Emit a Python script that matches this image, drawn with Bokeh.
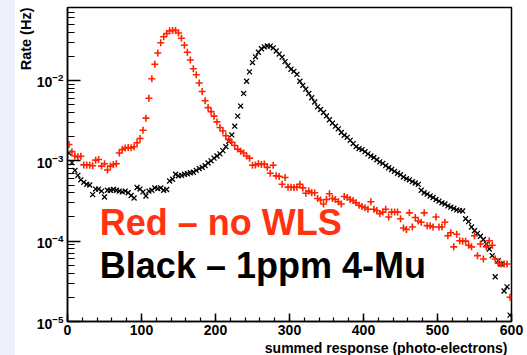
import math
from bokeh.plotting import figure
from bokeh.models import (ColumnDataSource, Label, FixedTicker, SingleIntervalTicker,
                          Spacer, LogTickFormatter, Title)
from bokeh.layouts import row
from bokeh.embed import file_html
from bokeh.resources import INLINE

# ---------------- data (bins of 4 photo-electrons, centres 2..598) ----------------
bin_centres = [2 + 4 * k for k in range(150)]

red_no_wls = [
    1.6e-3, 1.3e-3, 1.15e-3, 1.12e-3, 1.14e-3, 8.9e-4, 8.9e-4, 8.8e-4, 8.7e-4, 1.02e-3,
    1.04e-3, 8.6e-4, 9.2e-4, 7.7e-4, 8.6e-4, 9.0e-4, 9.2e-4, 1.25e-3, 1.38e-3, 1.44e-3,
    1.46e-3, 1.45e-3, 1.5e-3, 1.68e-3, 1.9e-3, 2.4e-3, 3.4e-3, 6.0e-3, 1.05e-2, 1.59e-2,
    2.2e-2, 2.95e-2, 3.5e-2, 3.85e-2, 4.15e-2, 4.2e-2, 4.2e-2, 3.9e-2, 3.35e-2, 2.75e-2,
    2.25e-2, 1.8e-2, 1.4e-2, 1.18e-2, 9.3e-3, 7.3e-3, 5.6e-3, 4.6e-3, 4.1e-3, 3.6e-3,
    3.05e-3, 2.6e-3, 2.35e-3, 2.05e-3, 1.85e-3, 1.7e-3, 1.55e-3, 1.4e-3, 1.32e-3, 1.25e-3,
    1.15e-3, 1.08e-3, 8.8e-4, 8.9e-4, 9.2e-4, 9.0e-4, 9.1e-4, 8.3e-4, 7.0e-4, 8.8e-4,
    6.5e-4, 6.4e-4, 5.1e-4, 6.2e-4, 4.7e-4, 4.7e-4, 4.65e-4, 4.7e-4, 5.1e-4, 4.6e-4,
    3.95e-4, 4.2e-4, 4.0e-4, 4.0e-4, 3.4e-4, 3.25e-4, 2.9e-4, 3.3e-4, 3.9e-4, 3.4e-4,
    3.3e-4, 3.1e-4, 2.9e-4, 3.6e-4, 3.5e-4, 3.3e-4, 3.2e-4, 3.0e-4, 2.8e-4, 2.7e-4,
    2.6e-4, 2.5e-4, 3.1e-4, 2.5e-4, 2.4e-4, 2.2e-4, 2.3e-4, 2.5e-4, 2.0e-4, 2.3e-4,
    2.3e-4, 2.3e-4, 1.9e-4, 1.46e-4, 1.4e-4, 2.25e-4, 1.5e-4, 1.97e-4, 1.78e-4, 1.72e-4,
    2.25e-4, 1.56e-4, 1.55e-4, 1.5e-4, 2.0e-4, 1.5e-4, 1.5e-4, 1.72e-4, 1.17e-4, 1.27e-4,
    8.5e-5, 1.22e-4, 1.01e-4, 1.0e-4, 1.0e-4, 8.9e-5, 8.5e-5, 1.17e-4, 6.6e-5, 9.2e-5,
    6.0e-5, 8.5e-5, 1.01e-4, 8.9e-5, 6.0e-5, 5.3e-5, 5.2e-5, 5.2e-5, 5.2e-5, 2.0e-5,
]

black_4mu = [
    1.25e-3, 9.5e-4, 7.6e-4, 6.6e-4, 5.8e-4, 5.4e-4, 5.1e-4, 5.0e-4, 3.8e-4, 4.45e-4,
    4.45e-4, 4.2e-4, 3.55e-4, 4.3e-4, 4.3e-4, 4.4e-4, 4.3e-4, 4.2e-4, 4.1e-4, 4.2e-4,
    4.0e-4, 3.7e-4, 3.45e-4, 4.66e-4, 4.45e-4, 4.1e-4, 3.65e-4, 4.2e-4, 4.3e-4, 4.6e-4,
    4.5e-4, 4.6e-4, 4.3e-4, 4.4e-4, 5.6e-4, 5.9e-4, 6.8e-4, 6.5e-4, 6.6e-4, 6.8e-4,
    6.9e-4, 7.1e-4, 7.2e-4, 7.6e-4, 8.0e-4, 8.3e-4, 8.7e-4, 9.4e-4, 1.0e-3, 1.08e-3,
    1.15e-3, 1.22e-3, 1.34e-3, 1.5e-3, 1.75e-3, 2.1e-3, 2.7e-3, 3.6e-3, 4.8e-3, 6.9e-3,
    9.8e-3, 1.28e-2, 1.67e-2, 1.97e-2, 2.25e-2, 2.48e-2, 2.62e-2, 2.69e-2, 2.68e-2, 2.55e-2,
    2.33e-2, 2.13e-2, 1.95e-2, 1.72e-2, 1.53e-2, 1.38e-2, 1.3e-2, 1.19e-2, 9.8e-3, 8.7e-3,
    7.8e-3, 6.9e-3, 6.1e-3, 5.4e-3, 4.7e-3, 4.35e-3, 4.0e-3, 3.62e-3, 3.25e-3, 2.95e-3,
    2.7e-3, 2.5e-3, 2.25e-3, 2.08e-3, 1.96e-3, 1.8e-3, 1.64e-3, 1.5e-3, 1.42e-3, 1.38e-3,
    1.3e-3, 1.22e-3, 1.15e-3, 1.1e-3, 1.03e-3, 9.7e-4, 9.3e-4, 8.7e-4, 8.2e-4, 7.8e-4,
    7.4e-4, 7.0e-4, 6.7e-4, 6.3e-4, 6.0e-4, 5.8e-4, 5.5e-4, 5.3e-4, 5.1e-4, 4.3e-4,
    4.0e-4, 3.85e-4, 3.65e-4, 3.5e-4, 3.3e-4, 3.15e-4, 3.0e-4, 2.9e-4, 2.75e-4, 2.65e-4,
    2.55e-4, 2.45e-4, 2.4e-4, 2.38e-4, 1.9e-4, 1.75e-4, 1.5e-4, 1.35e-4, 1.25e-4, 1.15e-4,
    1.05e-4, 9.2e-5, 8.0e-5, 6.6e-5, 3.6e-5, 5.7e-5, 5.2e-5, 2.4e-5, 2.7e-5, 1.2e-5,
]

x_ticks = [0, 100, 200, 300, 400, 500, 600]
y_ticks = [1e-5, 1e-4, 1e-3, 1e-2]
x_title = "summed response (photo-electrons)"
y_title = "Rate (Hz)"
legend_red = "Red \u2013 no WLS"
legend_black = "Black \u2013 1ppm 4-Mu"

# ---------------- styles ----------------
RED = "#ff2200"
RED_TEXT = "#ff3311"
FONT = "Liberation Sans"

src = ColumnDataSource(dict(x=bin_centres, red=red_no_wls, black=black_4mu))

p = figure(width=512, height=355, y_axis_type="log",
           x_range=(0, 600), y_range=(1e-5, 0.081),
           output_backend="svg", toolbar_location=None,
           min_border_left=52, min_border_right=16,
           min_border_top=7, min_border_bottom=34)
p.background_fill_color = "white"
p.border_fill_color = "white"
p.outline_line_color = "black"
p.outline_line_width = 1.5
p.xgrid.visible = False
p.ygrid.visible = False

# x axis
p.xaxis.ticker = SingleIntervalTicker(interval=100, num_minor_ticks=5)
p.xaxis.major_tick_in = 8
p.xaxis.major_tick_out = 0
p.xaxis.minor_tick_in = 4
p.xaxis.minor_tick_out = 0
p.xaxis.major_label_standoff = 3

# y axis
minor = [m * 10.0 ** e for e in range(-5, -1) for m in range(2, 10)]
p.yaxis.ticker = FixedTicker(ticks=y_ticks, minor_ticks=minor)
p.yaxis.formatter = LogTickFormatter()
p.yaxis.major_tick_in = 13
p.yaxis.major_tick_out = 0
p.yaxis.minor_tick_in = 7
p.yaxis.minor_tick_out = 0
p.yaxis.major_label_standoff = 4

for ax in (p.xaxis[0], p.yaxis[0]):
    ax.axis_line_width = 1.5
    ax.axis_line_color = "black"
    ax.major_tick_line_width = 1.5
    ax.minor_tick_line_width = 1.2
    ax.major_label_text_font = FONT
    ax.major_label_text_font_style = "bold"
    ax.major_label_text_font_size = "14px"
    ax.major_label_text_color = "black"

p.scatter("x", "black", source=src, marker="x", size=7, line_color="black",
          line_width=1.3)
p.scatter("x", "red", source=src, marker="cross", size=7, line_color=RED,
          line_width=1.6)

# legend texts
p.add_layout(Label(x=43.7, y=1.72e-4, text=legend_red, text_color=RED_TEXT,
                   text_font=FONT, text_font_style="bold",
                   text_font_size="36px", text_baseline="alphabetic"))
p.add_layout(Label(x=43.7, y=5.0e-5, text=legend_black, text_color="black",
                   text_font=FONT, text_font_style="bold",
                   text_font_size="36px", text_baseline="alphabetic"))

# axis titles (ROOT style, aligned to the axis ends)
p.add_layout(Title(text=x_title, align="right", offset=4, standoff=0,
                   text_font=FONT, text_font_style="bold", text_font_size="14px",
                   text_color="black"), "below")
p.add_layout(Title(text=y_title, align="right", standoff=0,
                   text_font=FONT, text_font_style="bold", text_font_size="14.5px",
                   text_color="black"), "left")

left = Spacer(width=15, height=355, styles={"background-color": "#eef1fb"})
layout = row(left, p, spacing=0)

open("out.html", "w").write(file_html(layout, INLINE))
